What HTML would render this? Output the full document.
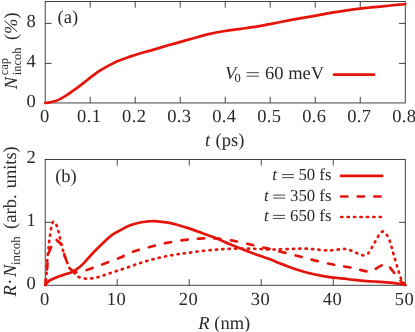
<!DOCTYPE html>
<html><head><meta charset="utf-8"><title>Figure</title>
<style>
html,body{margin:0;padding:0;background:#fff;}
svg{display:block;}
text{font-family:"Liberation Serif",serif;font-size:18.5px;fill:#2a2a2a;text-rendering:geometricPrecision;}
.it{font-style:italic;}
.tl{letter-spacing:0.35px;}
.lg text{font-size:16.8px;}
.eq{stroke:#333;stroke-width:0.9;fill:none;}
.ax line,.ax rect{stroke:#222;stroke-width:0.85;fill:none;}
.c{fill:none;stroke:#e5140a;stroke-width:2.7;stroke-linecap:round;stroke-linejoin:round;}
</style></head><body>
<svg width="415" height="332" viewBox="0 0 415 332">
<rect width="415" height="332" fill="#fff"/>
<g class="ax">
<rect x="45.2" y="1.5" width="360.05" height="101.45"/>
<rect x="45.2" y="159.5" width="360.05" height="125.75"/>
<line x1="90.21" y1="102.95" x2="90.21" y2="96.75"/><line x1="90.21" y1="1.50" x2="90.21" y2="7.70"/><line x1="135.21" y1="102.95" x2="135.21" y2="96.75"/><line x1="135.21" y1="1.50" x2="135.21" y2="7.70"/><line x1="180.22" y1="102.95" x2="180.22" y2="96.75"/><line x1="180.22" y1="1.50" x2="180.22" y2="7.70"/><line x1="225.23" y1="102.95" x2="225.23" y2="96.75"/><line x1="225.23" y1="1.50" x2="225.23" y2="7.70"/><line x1="270.23" y1="102.95" x2="270.23" y2="96.75"/><line x1="270.23" y1="1.50" x2="270.23" y2="7.70"/><line x1="315.24" y1="102.95" x2="315.24" y2="96.75"/><line x1="315.24" y1="1.50" x2="315.24" y2="7.70"/><line x1="360.24" y1="102.95" x2="360.24" y2="96.75"/><line x1="360.24" y1="1.50" x2="360.24" y2="7.70"/><line x1="45.20" y1="63.40" x2="51.50" y2="63.40"/><line x1="405.25" y1="63.40" x2="398.95" y2="63.40"/><line x1="45.20" y1="23.40" x2="51.50" y2="23.40"/><line x1="405.25" y1="23.40" x2="398.95" y2="23.40"/>
<line x1="117.21" y1="285.25" x2="117.21" y2="279.05"/><line x1="117.21" y1="159.50" x2="117.21" y2="165.70"/><line x1="189.22" y1="285.25" x2="189.22" y2="279.05"/><line x1="189.22" y1="159.50" x2="189.22" y2="165.70"/><line x1="261.23" y1="285.25" x2="261.23" y2="279.05"/><line x1="261.23" y1="159.50" x2="261.23" y2="165.70"/><line x1="333.24" y1="285.25" x2="333.24" y2="279.05"/><line x1="333.24" y1="159.50" x2="333.24" y2="165.70"/><line x1="45.20" y1="222.30" x2="51.50" y2="222.30"/><line x1="405.25" y1="222.30" x2="398.95" y2="222.30"/>
</g>
<g style="filter:grayscale(1)">
<text class="tl" x="44.80" y="122.4" text-anchor="middle">0</text><text class="tl" x="89.21" y="122.4" text-anchor="middle">0.1</text><text class="tl" x="134.21" y="122.4" text-anchor="middle">0.2</text><text class="tl" x="179.22" y="122.4" text-anchor="middle">0.3</text><text class="tl" x="224.23" y="122.4" text-anchor="middle">0.4</text><text class="tl" x="269.23" y="122.4" text-anchor="middle">0.5</text><text class="tl" x="314.24" y="122.4" text-anchor="middle">0.6</text><text class="tl" x="359.24" y="122.4" text-anchor="middle">0.7</text><text class="tl" x="404.25" y="122.4" text-anchor="middle">0.8</text><text class="tl" x="44.80" y="305.3" text-anchor="middle">0</text><text class="tl" x="116.41" y="305.3" text-anchor="middle">10</text><text class="tl" x="188.42" y="305.3" text-anchor="middle">20</text><text class="tl" x="260.43" y="305.3" text-anchor="middle">30</text><text class="tl" x="332.44" y="305.3" text-anchor="middle">40</text><text class="tl" x="404.45" y="305.3" text-anchor="middle">50</text><text x="35.7" y="107.20" text-anchor="end">0</text><text x="35.7" y="67.20" text-anchor="end">4</text><text x="35.7" y="27.20" text-anchor="end">8</text><text x="35.7" y="289.05" text-anchor="end">0</text><text x="35.7" y="226.18" text-anchor="end">1</text><text x="35.7" y="163.30" text-anchor="end">2</text>
<text x="57.6" y="22.6">(a)</text>
<text x="55.2" y="182.4">(b)</text>
<text x="205" y="146.1" class="it">t</text><text x="215.6" y="146.1">(ps)</text>
<text x="224.3" y="328.5" text-anchor="middle"><tspan class="it">R</tspan> (nm)</text>
<text x="225" y="78.5" class="it">V</text><text x="234.6" y="81.8" style="font-size:12.5px">0</text><path class="eq" d="M246.6 72.7H258.9M246.6 76.2H258.9"/><text x="265" y="78.5">60 meV</text>
<g class="lg"><text x="272.3" y="180.2" class="it">t</text><path class="eq" d="M282 174.6H293.9M282 177.6H293.9"/><text x="331.5" y="180.2" text-anchor="end">50 fs</text>
<text x="263.9" y="200.7" class="it">t</text><path class="eq" d="M273.2 195.1H285.1M273.2 198.1H285.1"/><text x="331.5" y="200.7" text-anchor="end">350 fs</text>
<text x="263.9" y="221" class="it">t</text><path class="eq" d="M273.2 215.4H285.1M273.2 218.4H285.1"/><text x="331.5" y="221" text-anchor="end">650 fs</text></g>
<g transform="translate(16.5,89.3) rotate(-90)"><text x="0" y="0" class="it">N</text><text x="14" y="-8.2" style="font-size:12.5px">cap</text><text x="14" y="4.6" style="font-size:12.5px">incoh</text><text x="49.2" y="0">(<tspan class="it">%</tspan>)</text></g>
<g transform="translate(16.3,296.4) rotate(-90)"><text x="0" y="0" class="it">R</text><text x="14.7" y="0" text-anchor="middle">·</text><text x="19.4" y="0" class="it">N</text><text x="31.4" y="3.6" style="font-size:13px">incoh</text><text x="67.5" y="0" style="word-spacing:1.5px">(arb. units)</text></g>
</g>
<path class="c" d="M45.30 102.90 C46.08 102.80 48.45 102.57 50.00 102.30 C51.55 102.03 53.02 101.78 54.60 101.30 C56.18 100.82 57.88 100.18 59.50 99.40 C61.12 98.62 62.72 97.57 64.30 96.60 C65.88 95.63 67.40 94.67 69.00 93.60 C70.60 92.53 72.28 91.35 73.90 90.20 C75.52 89.05 77.08 87.92 78.70 86.70 C80.32 85.48 81.98 84.17 83.60 82.90 C85.22 81.63 86.80 80.37 88.40 79.10 C90.00 77.83 91.60 76.50 93.20 75.30 C94.80 74.10 96.40 72.97 98.00 71.90 C99.60 70.83 101.20 69.87 102.80 68.90 C104.40 67.93 105.98 66.98 107.60 66.10 C109.22 65.22 110.88 64.40 112.50 63.60 C114.12 62.80 115.70 62.00 117.30 61.30 C118.90 60.60 120.15 60.12 122.10 59.40 C124.05 58.68 126.43 57.87 129.00 57.00 C131.57 56.13 133.38 55.43 137.50 54.20 C141.62 52.97 148.28 51.17 153.70 49.60 C159.12 48.03 166.25 45.88 170.00 44.80 C173.75 43.72 172.45 44.15 176.20 43.10 C179.95 42.05 187.08 40.00 192.50 38.50 C197.92 37.00 203.28 35.35 208.70 34.10 C214.12 32.85 219.58 31.88 225.00 31.00 C230.42 30.12 235.78 29.57 241.20 28.80 C246.62 28.03 252.08 27.32 257.50 26.40 C262.92 25.48 268.28 24.33 273.70 23.30 C279.12 22.27 285.42 21.05 290.00 20.20 C294.58 19.35 296.62 19.02 301.20 18.20 C305.78 17.38 312.08 16.27 317.50 15.30 C322.92 14.33 328.28 13.30 333.70 12.40 C339.12 11.50 344.58 10.65 350.00 9.90 C355.42 9.15 360.78 8.50 366.20 7.90 C371.62 7.30 377.08 6.83 382.50 6.30 C387.92 5.77 394.90 5.05 398.70 4.70 C402.50 4.35 404.20 4.28 405.30 4.20"/>
<path class="c" d="M45.30 285.00 C45.50 284.73 45.75 284.17 46.50 283.40 C47.25 282.63 48.95 281.05 49.80 280.40 C50.65 279.75 50.47 280.03 51.60 279.50 C52.73 278.97 54.98 277.85 56.60 277.20 C58.22 276.55 60.02 276.03 61.30 275.60 C62.58 275.17 62.70 275.13 64.30 274.60 C65.90 274.07 69.15 273.08 70.90 272.40 C72.65 271.72 73.62 271.18 74.80 270.50 C75.98 269.82 76.53 269.48 78.00 268.30 C79.47 267.12 81.07 265.98 83.60 263.40 C86.13 260.82 90.00 256.17 93.20 252.80 C96.40 249.43 99.58 246.22 102.80 243.20 C106.02 240.18 109.63 236.83 112.50 234.70 C115.37 232.57 117.15 231.92 120.00 230.40 C122.85 228.88 126.38 226.88 129.60 225.60 C132.82 224.32 136.08 223.40 139.30 222.70 C142.52 222.00 146.33 221.65 148.90 221.40 C151.47 221.15 151.48 220.98 154.70 221.20 C157.92 221.42 164.35 222.07 168.20 222.70 C172.05 223.33 174.58 224.13 177.80 225.00 C181.02 225.87 183.80 226.68 187.50 227.90 C191.20 229.12 195.53 230.68 200.00 232.30 C204.47 233.92 208.70 235.35 214.30 237.60 C219.90 239.85 227.18 243.20 233.60 245.80 C240.02 248.40 246.73 250.95 252.80 253.20 C258.87 255.45 265.53 257.62 270.00 259.30 C274.47 260.98 276.38 262.03 279.60 263.30 C282.82 264.57 286.08 265.75 289.30 266.90 C292.52 268.05 295.68 269.18 298.90 270.20 C302.12 271.22 305.38 272.18 308.60 273.00 C311.82 273.82 315.00 274.47 318.20 275.10 C321.40 275.73 324.58 276.32 327.80 276.80 C331.02 277.28 334.70 277.68 337.50 278.00 C340.30 278.32 341.80 278.38 344.60 278.70 C347.40 279.02 351.08 279.55 354.30 279.90 C357.52 280.25 360.68 280.53 363.90 280.80 C367.12 281.07 370.38 281.27 373.60 281.50 C376.82 281.73 380.00 281.97 383.20 282.20 C386.40 282.43 389.92 282.60 392.80 282.90 C395.68 283.20 398.42 283.65 400.50 284.00 C402.58 284.35 404.50 284.83 405.30 285.00"/>
<path class="c" stroke-dasharray="6.3 10.3" stroke-dashoffset="1" d="M45.30 285.00 C45.45 283.67 45.93 279.53 46.20 277.00 C46.47 274.47 46.65 272.37 46.90 269.80 C47.15 267.23 47.42 264.33 47.70 261.60 C47.98 258.87 47.95 255.97 48.60 253.40 C49.25 250.83 50.73 248.23 51.60 246.20 C52.47 244.17 53.15 242.28 53.80 241.20 C54.45 240.12 54.93 239.82 55.50 239.70 C56.07 239.58 56.15 239.58 57.20 240.50 C58.25 241.42 60.80 243.62 61.80 245.20 C62.80 246.78 62.73 248.32 63.20 250.00 C63.67 251.68 63.90 253.08 64.60 255.30 C65.30 257.52 66.50 261.13 67.40 263.30 C68.30 265.47 68.92 266.95 70.00 268.30 C71.08 269.65 72.57 270.77 73.90 271.40 C75.23 272.03 76.48 272.13 78.00 272.10 C79.52 272.07 80.72 271.83 83.00 271.20 C85.28 270.57 88.87 269.28 91.70 268.30 C94.53 267.32 96.95 266.43 100.00 265.30 C103.05 264.17 106.48 262.83 110.00 261.50 C113.52 260.17 117.83 258.73 121.10 257.30 C124.37 255.87 126.57 254.15 129.60 252.90 C132.63 251.65 135.43 250.92 139.30 249.80 C143.17 248.68 147.98 247.40 152.80 246.20 C157.62 245.00 162.75 243.65 168.20 242.60 C173.65 241.55 180.38 240.57 185.50 239.90 C190.62 239.23 195.15 238.87 198.90 238.60 C202.65 238.33 204.80 238.28 208.00 238.30 C211.20 238.32 213.68 238.25 218.10 238.70 C222.52 239.15 228.87 239.97 234.50 241.00 C240.13 242.03 246.12 243.58 251.90 244.90 C257.68 246.22 264.25 247.72 269.20 248.90 C274.15 250.08 276.65 250.77 281.60 252.00 C286.55 253.23 293.28 254.87 298.90 256.30 C304.52 257.73 309.83 259.27 315.30 260.60 C320.77 261.93 327.13 263.37 331.70 264.30 C336.27 265.23 339.42 265.63 342.70 266.20 C345.98 266.77 348.83 267.17 351.40 267.70 C353.97 268.23 355.53 268.78 358.10 269.40 C360.67 270.02 364.70 271.08 366.80 271.40 C368.90 271.72 369.42 271.62 370.70 271.30 C371.98 270.98 372.58 270.53 374.50 269.50 C376.42 268.47 380.37 265.98 382.20 265.10 C384.03 264.22 384.37 263.98 385.50 264.20 C386.63 264.42 387.30 264.65 389.00 266.40 C390.70 268.15 393.78 272.28 395.70 274.70 C397.62 277.12 398.90 279.18 400.50 280.90 C402.10 282.62 404.50 284.32 405.30 285.00"/>
<path class="c" stroke-dasharray="1.2 5.22" stroke-dashoffset="1.8" d="M45.30 285.00 C45.45 283.67 45.95 279.53 46.20 277.00 C46.45 274.47 46.60 272.85 46.80 269.80 C47.00 266.75 47.08 262.60 47.40 258.70 C47.72 254.80 48.37 249.50 48.70 246.40 C49.03 243.30 49.13 242.20 49.40 240.10 C49.67 238.00 49.98 235.88 50.30 233.80 C50.62 231.72 50.78 229.63 51.30 227.60 C51.82 225.57 52.50 221.93 53.40 221.60 C54.30 221.27 55.83 223.88 56.70 225.60 C57.57 227.32 58.05 229.77 58.60 231.90 C59.15 234.03 59.53 236.35 60.00 238.40 C60.47 240.45 60.90 242.18 61.40 244.20 C61.90 246.22 62.45 248.50 63.00 250.50 C63.55 252.50 64.00 254.20 64.70 256.20 C65.40 258.20 66.38 260.50 67.20 262.50 C68.02 264.50 68.48 266.52 69.60 268.20 C70.72 269.88 72.45 271.17 73.90 272.60 C75.35 274.03 76.53 275.82 78.30 276.80 C80.07 277.78 82.33 278.23 84.50 278.50 C86.67 278.77 89.22 278.58 91.30 278.40 C93.38 278.22 95.08 277.87 97.00 277.40 C98.92 276.93 100.87 276.22 102.80 275.60 C104.73 274.98 106.67 274.35 108.60 273.70 C110.53 273.05 112.43 272.35 114.40 271.70 C116.37 271.05 117.87 270.63 120.40 269.80 C122.93 268.97 126.45 267.78 129.60 266.70 C132.75 265.62 136.08 264.35 139.30 263.30 C142.52 262.25 145.68 261.30 148.90 260.40 C152.12 259.50 155.38 258.65 158.60 257.90 C161.82 257.15 165.00 256.52 168.20 255.90 C171.40 255.28 174.58 254.70 177.80 254.20 C181.02 253.70 183.80 253.40 187.50 252.90 C191.20 252.40 195.53 251.72 200.00 251.20 C204.47 250.68 210.32 250.15 214.30 249.80 C218.28 249.45 220.68 249.28 223.90 249.10 C227.12 248.92 230.38 248.78 233.60 248.70 C236.82 248.62 240.00 248.60 243.20 248.60 C246.40 248.60 249.58 248.62 252.80 248.70 C256.02 248.78 258.80 248.97 262.50 249.10 C266.20 249.23 270.53 249.50 275.00 249.50 C279.47 249.50 285.32 249.23 289.30 249.10 C293.28 248.97 295.68 248.75 298.90 248.70 C302.12 248.65 305.38 248.63 308.60 248.80 C311.82 248.97 315.00 249.43 318.20 249.70 C321.40 249.97 325.23 250.33 327.80 250.40 C330.37 250.47 331.35 250.32 333.60 250.10 C335.85 249.88 339.13 249.25 341.30 249.10 C343.47 248.95 344.77 248.88 346.60 249.20 C348.43 249.52 350.38 250.25 352.30 251.00 C354.22 251.75 356.23 252.98 358.10 253.70 C359.97 254.42 361.88 255.33 363.50 255.30 C365.12 255.27 366.87 254.05 367.80 253.50 C368.73 252.95 368.33 253.15 369.10 252.00 C369.87 250.85 371.33 248.42 372.40 246.60 C373.47 244.78 374.47 242.92 375.50 241.10 C376.53 239.28 377.37 237.32 378.60 235.70 C379.83 234.08 381.47 231.43 382.90 231.40 C384.33 231.37 386.03 233.83 387.20 235.50 C388.37 237.17 389.13 239.37 389.90 241.40 C390.67 243.43 391.22 245.67 391.80 247.70 C392.38 249.73 392.75 251.28 393.40 253.60 C394.05 255.92 394.83 258.65 395.70 261.60 C396.57 264.55 397.63 268.25 398.60 271.30 C399.57 274.35 400.38 277.62 401.50 279.90 C402.62 282.18 404.67 284.15 405.30 285.00"/>
<line class="c" x1="334" y1="74.7" x2="374" y2="74.7"/>
<line class="c" x1="341" y1="175.9" x2="382.2" y2="175.9"/>
<line class="c" stroke-dasharray="6.3 10.3" x1="341.1" y1="196.5" x2="382.2" y2="196.5"/>
<line class="c" stroke-dasharray="1.2 5.22" x1="341.2" y1="217" x2="382.2" y2="217"/>
</svg>
</body></html>
